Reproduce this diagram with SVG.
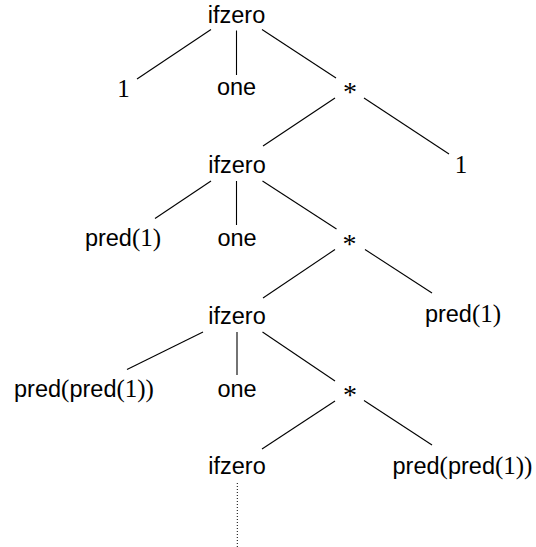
<svg xmlns="http://www.w3.org/2000/svg" width="536" height="547" viewBox="0 0 536 547">
<style>
.s{font-family:"Liberation Sans",Arial,sans-serif;font-size:23.5px;fill:#000;text-anchor:middle}
.d{font-family:"Liberation Serif","DejaVu Serif",serif;font-size:25px;fill:#000;text-anchor:middle}
.ast{font-family:"Liberation Serif","DejaVu Serif",serif;font-size:28px;fill:#000;text-anchor:middle}
.e line{stroke:#000;stroke-width:1.1;fill:none}
.e line.dot{stroke-width:1;stroke-dasharray:1 2}
</style>
<rect width="536" height="547" fill="#fff"/>
<g id="edges" class="e">
<line x1="211" y1="29.5" x2="137" y2="79"/>
<line x1="236.5" y1="30.5" x2="236.5" y2="75"/>
<line x1="262" y1="29.5" x2="336" y2="78"/>
<line x1="335" y1="98" x2="263" y2="146"/>
<line x1="364" y1="98" x2="449" y2="154"/>
<line x1="211" y1="181" x2="155" y2="218.5"/>
<line x1="236.5" y1="181" x2="236.5" y2="225"/>
<line x1="262.5" y1="181" x2="336.5" y2="229"/>
<line x1="335" y1="249.5" x2="263" y2="298"/>
<line x1="365" y1="249.5" x2="432" y2="293"/>
<line x1="203" y1="332" x2="127" y2="369.5"/>
<line x1="237" y1="332" x2="237" y2="375"/>
<line x1="262.5" y1="332" x2="335" y2="381"/>
<line x1="335" y1="401" x2="262" y2="449"/>
<line x1="364" y1="400.5" x2="432" y2="445"/>
<line class="dot" x1="237.3" y1="483" x2="237.3" y2="547"/>
</g>
<g id="n0"><text class="s" x="236.5" y="22.5">ifzero</text></g>
<g id="n1"><text class="d" x="123.5" y="96.5">1</text></g>
<g id="n2"><text class="s" x="236.5" y="94.5">one</text></g>
<g id="n3"><text class="ast" x="350" y="101">*</text></g>
<g id="n4"><text class="s" x="237" y="173.3">ifzero</text></g>
<g id="n5"><text class="d" x="461" y="172.5">1</text></g>
<g id="n6"><text class="s" x="123" y="246">pred<tspan font-family="Liberation Serif" font-size="25">(1)</tspan></text></g>
<g id="n7"><text class="s" x="237" y="245.5">one</text></g>
<g id="n8"><text class="ast" x="349.5" y="253">*</text></g>
<g id="n9"><text class="s" x="237" y="324">ifzero</text></g>
<g id="n10"><text class="s" x="463" y="322">pred<tspan font-family="Liberation Serif" font-size="25">(1)</tspan></text></g>
<g id="n11"><text class="s" x="84" y="397">pred<tspan font-family="Liberation Serif" font-size="25">(</tspan>pred<tspan font-family="Liberation Serif" font-size="25">(1))</tspan></text></g>
<g id="n12"><text class="s" x="237" y="396.5">one</text></g>
<g id="n13"><text class="ast" x="350" y="404">*</text></g>
<g id="n14"><text class="s" x="237" y="474">ifzero</text></g>
<g id="n15"><text class="s" x="462.5" y="474">pred<tspan font-family="Liberation Serif" font-size="25">(</tspan>pred<tspan font-family="Liberation Serif" font-size="25">(1))</tspan></text></g>
</svg>
